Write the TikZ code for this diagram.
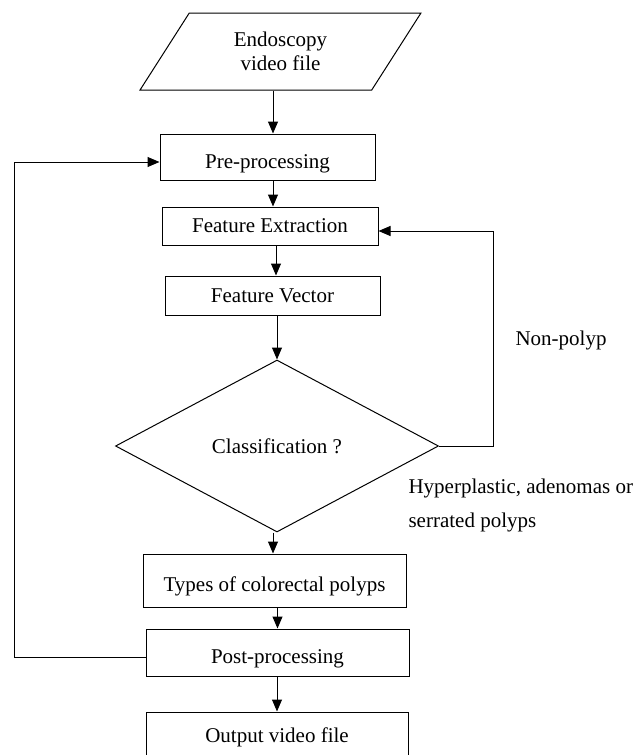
\documentclass[tikz,border=0pt]{standalone}
\usepackage{fontspec}
\setmainfont{Liberation Serif}
\usetikzlibrary{shapes.geometric,arrows.meta,calc}
\begin{document}
\begin{tikzpicture}[x=1pt,y=-1pt,
  every node/.style={font=\fontsize{21}{24}\selectfont},
  box/.style={draw, line width=1pt, inner sep=0pt},
  lowtext/.style={text height=22pt, text depth=0pt},
  arr/.style={line width=1pt, -{Triangle[length=12pt,width=10pt]}},
  ln/.style={line width=1pt}]
\useasboundingbox (0,0) rectangle (636,755);
\clip (0,0) rectangle (636,755);
% nodes
\node[box, trapezium, trapezium stretches=true, trapezium left angle=57, trapezium right angle=123,
      minimum width=281pt, minimum height=77pt, align=center] (in) at (280.5,51.5) {Endoscopy\\video file};
\node[box, lowtext, minimum width=215pt, minimum height=46pt] (pre) at (267.5,157) {Pre-processing};
\node[box, minimum width=216pt, minimum height=38pt] (fe) at (270,226) {Feature Extraction};
\node[box, minimum width=215pt, minimum height=39pt] (fv) at (272.5,295.5) {Feature Vector};
\node[box, diamond, aspect=1.88, minimum width=323pt, minimum height=172pt] (dia) at (277,446) {Classification ?};
\node[box, lowtext, minimum width=263pt, minimum height=53pt] (types) at (274.5,580.5) {Types of colorectal polyps};
\node[box, lowtext, minimum width=263pt, minimum height=47pt] (post) at (277.5,652.5) {Post-processing};
\node[box, minimum width=262pt, minimum height=50pt] (out) at (277,737) {Output video file};
\node (np) at (561,340) {Non-polyp};
\node[anchor=west, align=left, font=\fontsize{21}{34}\selectfont] (hyp) at (405,505) {Hyperplastic, adenomas or\\serrated polyps};
% connector start points
\coordinate (s1) at ($(in.south)+(-7.5,0)$);
\coordinate (s2) at ($(pre.south)+(5.5,0)$);
\coordinate (s3) at ($(fe.south)+(6,0)$);
\coordinate (s5) at ($(dia.south)+(-4,0)$);
\coordinate (fein) at ($(fe.east)+(0,5)$);
\coordinate (postout) at ($(post.west)+(0,4.5)$);
\coordinate (prein) at ($(pre.west)+(0,5)$);
\coordinate (lc) at (14,0);
% connectors
\draw[arr] (s1) -- (s1 |- pre.north);
\draw[arr] (s2) -- (s2 |- fe.north);
\draw[arr] (s3) -- (s3 |- fv.north);
\draw[arr] (fv.south -| dia.north) -- (dia.north);
\draw[arr] (s5) -- (s5 |- types.north);
\draw[arr] (types.south -| post.north) -- (post.north);
\draw[arr] (post.south -| out.north) -- (out.north);
\draw[arr] (dia.east) -- ++(54,0) |- (fein);
\draw[arr] (postout) -- (postout -| lc) |- (prein);
\end{tikzpicture}
\end{document}
